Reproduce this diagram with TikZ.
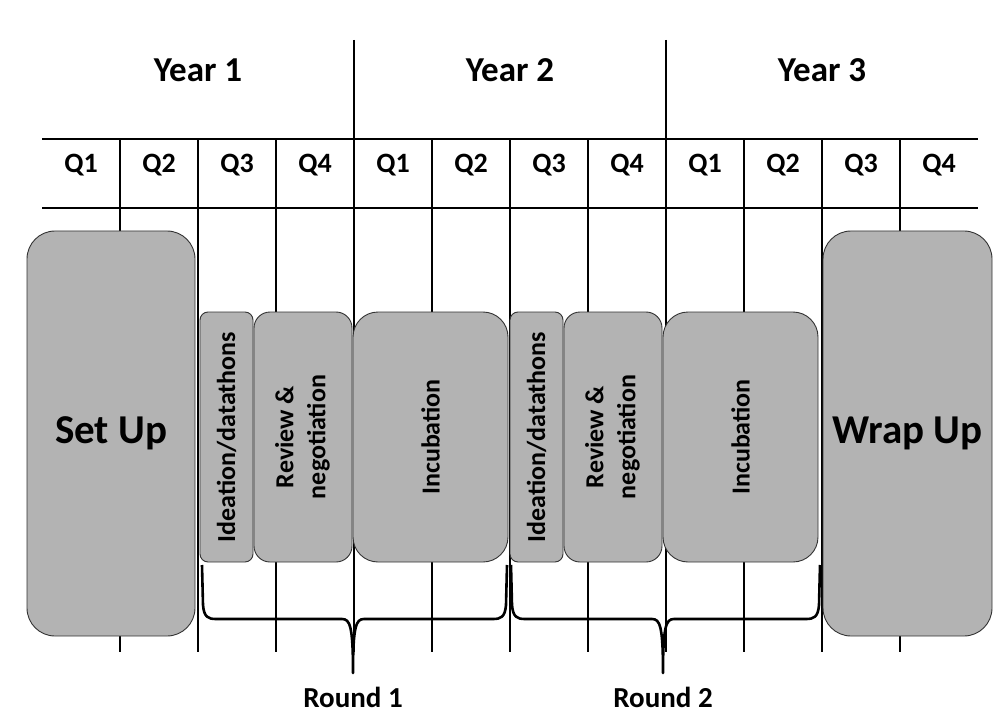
\documentclass[tikz,border=0pt]{standalone}
\usepackage{fontspec}
\setmainfont{Carlito}
\usetikzlibrary{positioning}
\definecolor{cinzafase}{RGB}{179,179,179}

\begin{document}
\begin{tikzpicture}[x=1pt, y=-1pt,
            grade/.style={line width=1.2pt},
            fase/.style={draw=black!80, line width=0.9pt, fill=cinzafase, inner sep=0pt, outer sep=0pt,
                minimum height=250pt, font=\bfseries\fontsize{26}{32}\selectfont},
            grande/.style={fase, minimum height=405pt, rounded corners=28pt, font=\bfseries\fontsize{41}{45}\selectfont},
            chave/.style={line width=2.6pt, line join=round},
            ano/.style={font=\bfseries\fontsize{35}{40}\selectfont},
            trimestre/.style={font=\bfseries\fontsize{28}{32}\selectfont},
            rodada/.style={font=\bfseries\fontsize{29}{32}\selectfont}
        ]
            \useasboundingbox (0,0) rectangle (1006,727);

            % Grade dos trimestres
            \draw[grade] (42,139) -- (978,139);
            \draw[grade] (42,208) -- (978,208);
            \foreach \i in {1,...,11} {
                \pgfmathtruncatemacro{\xq}{42+78*\i}
                \draw[grade] (\xq,139) -- (\xq,652);
            }
            \draw[grade] (354,40) -- (354,652);
            \draw[grade] (666,40) -- (666,652);

            % Rótulos dos anos e trimestres
            \node[ano] (ano1) at (198,70) {Year 1};
            \node[ano] (ano2) at (510,70) {Year 2};
            \node[ano] (ano3) at (822,70) {Year 3};
            \foreach \q [count=\i] in {1,2,3,4,1,2,3,4,1,2,3,4}
                \node[trimestre] (q\i) at (3+78*\i,165) {Q\q};

            % Fases do projeto
            \node[grande, minimum width=168pt] (setup) at (111,433.5) {Set Up};
            \node[fase, minimum width=53pt, rounded corners=8pt, anchor=north west] (ide1) at (200,312)
                {\rotatebox{90}{Ideation/datathons}};
            \node[fase, minimum width=98pt, rounded corners=16pt, right=1pt of ide1] (rev1)
                {\rotatebox{90}{\begin{tabular}{@{}c@{}}Review \&\\negotiation\end{tabular}}};
            \node[fase, minimum width=155pt, rounded corners=25pt, right=1pt of rev1] (inc1)
                {\rotatebox{90}{Incubation}};
            \node[fase, minimum width=53pt, rounded corners=8pt, right=2pt of inc1] (ide2)
                {\rotatebox{90}{Ideation/datathons}};
            \node[fase, minimum width=98pt, rounded corners=16pt, right=1pt of ide2] (rev2)
                {\rotatebox{90}{\begin{tabular}{@{}c@{}}Review \&\\negotiation\end{tabular}}};
            \node[fase, minimum width=155pt, rounded corners=25pt, right=1pt of rev2] (inc2)
                {\rotatebox{90}{Incubation}};
            \node[grande, minimum width=169pt] (wrap) at (907.5,433.5) {Wrap Up};

            % Chaves das rodadas
            \foreach \a/\m/\b/\n in {202/353/507/1, 511/663/820/2} {
                \draw[chave] (\a,565) -- (\a+1,605) .. controls (\a+2,617) and (\a+6,619) .. (\a+14,619)
                    -- (\m-11,619) .. controls (\m-3,619) and (\m,626) .. (\m,673)
                    .. controls (\m,626) and (\m+3,619) .. (\m+11,619)
                    -- (\b-14,619) .. controls (\b-6,619) and (\b-2,617) .. (\b-1,605) -- (\b,565);
                \node[rodada] (rodada\n) at (\m,697) {Round \n};
            }
        \end{tikzpicture}
\end{document}
